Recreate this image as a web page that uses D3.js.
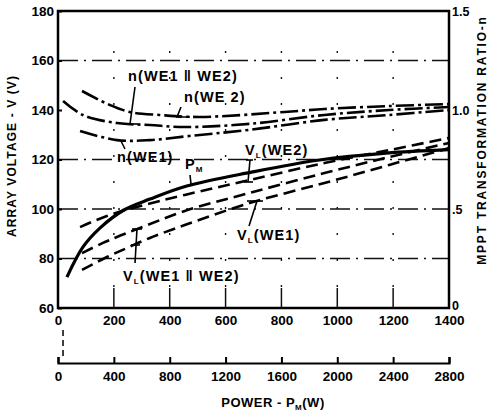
<!DOCTYPE html>
<html><head><meta charset="utf-8">
<script src="https://cdn.jsdelivr.net/npm/d3@7"></script>
<style>
body{margin:0;background:#fff;}
svg{display:block;font-family:"Liberation Sans",Arial,sans-serif;font-weight:bold;}
</style></head><body>
<svg id="chart" width="489" height="413"></svg>
<script>
// Axis ticks
const powerTicks = [0, 200, 400, 600, 800, 1000, 1200, 1400];
const powerTicks2 = [0, 400, 800, 1200, 1600, 2000, 2400, 2800];
const voltageTicks = [60, 80, 100, 120, 140, 160, 180];
const ratioTicks = [0, 0.5, 1.0, 1.5];
const ratioTickLabels = ["0", ".5", "1.0", "1.5"];
const gridVoltages = [160, 120, 100, 80];
const gridPowers = [200, 400, 600, 800, 1000, 1200];

// Maximum-power voltage P_M (left axis, V)
const pmPower   = [32, 89, 150, 236, 329, 461, 693, 936, 1175, 1400];
const pmVoltage = [72.5, 84.6, 92.3, 99.6, 104.0, 109.3, 114.9, 119.8, 122.6, 124];

// Load-line voltages V_L (left axis, V)
const vlWE2Power   = [79, 175, 282, 454, 686, 954, 1186, 1400];
const vlWE2Voltage = [92.7, 97.2, 100.8, 105.7, 111.7, 118.6, 123.8, 128.7];
const vlParPower   = [86, 161, 211, 293, 454, 686, 954, 1186, 1400];
const vlParVoltage = [82.2, 86.3, 88.7, 92.3, 99.2, 106.5, 114.5, 121, 126.7];
const vlWE1Power   = [86, 175, 246, 329, 454, 686, 954, 1186, 1400];
const vlWE1Voltage = [75.4, 80.6, 84.2, 88.3, 93.5, 102.4, 110.5, 117.8, 124.6];

// MPPT transformation ratio n (right axis)
const nWE2Power = [86, 186, 257, 364, 507, 811, 954, 1186, 1400];
const nWE2Ratio = [1.096, 1.025, 0.99, 0.975, 0.965, 0.99, 1.005, 1.02, 1.03];
const nParPower = [18, 89, 211, 329, 454, 686, 954, 1186, 1400];
const nParRatio = [1.045, 0.975, 0.934, 0.924, 0.914, 0.93, 0.975, 1.0, 1.015];
const nWE1Power = [79, 211, 329, 471, 686, 954, 1186, 1400];
const nWE1Ratio = [0.894, 0.848, 0.848, 0.869, 0.90, 0.95, 0.975, 1.0];

const svg = d3.select("#chart");
const plotLeft = 58, plotRight = 449, plotTop = 11, plotBottom = 308;

const x = d3.scaleLinear().domain([0, 1400]).range([plotLeft, plotRight]);
const x2 = d3.scaleLinear().domain([0, 2800]).range([plotLeft, plotRight]);
const yV = d3.scaleLinear().domain([60, 180]).range([plotBottom, plotTop]);
const yN = d3.scaleLinear().domain([0, 1.5]).range([plotBottom, plotTop]);

// Grid: dash-dot horizontals, sparse dotted verticals with short base ticks
svg.append("g").selectAll("line").data(gridVoltages).join("line")
  .attr("x1", plotLeft).attr("x2", plotRight)
  .attr("y1", d => yV(d)).attr("y2", d => yV(d))
  .attr("stroke", "#111").attr("stroke-width", 1.6)
  .attr("stroke-dasharray", "20,6,2,6");
svg.append("g").selectAll("line").data(gridPowers).join("line")
  .attr("x1", d => x(d)).attr("x2", d => x(d))
  .attr("y1", plotTop + 40).attr("y2", plotBottom)
  .attr("stroke", "#111").attr("stroke-width", 1.4)
  .attr("stroke-dasharray", "2,24");
svg.append("g").selectAll("line").data(gridPowers).join("line")
  .attr("x1", d => x(d)).attr("x2", d => x(d))
  .attr("y1", plotBottom - 20).attr("y2", plotBottom)
  .attr("stroke", "#111").attr("stroke-width", 1.5);

// Frame
svg.append("rect").attr("x", plotLeft).attr("y", plotTop)
  .attr("width", plotRight - plotLeft).attr("height", plotBottom - plotTop)
  .attr("fill", "none").attr("stroke", "#000").attr("stroke-width", 2.5);

// Axes
const fmt = d3.format("d");
const axisL = d3.axisLeft(yV).tickValues(voltageTicks).tickSize(-4).tickPadding(4).tickFormat(fmt);
const gL = svg.append("g").attr("transform", `translate(${plotLeft},0)`).call(axisL);
const axisR = d3.axisRight(yN).tickValues(ratioTicks).tickSize(0).tickPadding(3)
  .tickFormat((d, i) => ratioTickLabels[i]);
const gR = svg.append("g").attr("transform", `translate(${plotRight},0)`).call(axisR);
const axisB = d3.axisBottom(x).tickValues(powerTicks).tickSize(0).tickPadding(7).tickFormat(fmt);
const gB = svg.append("g").attr("transform", `translate(0,${plotBottom})`).call(axisB);
const axisB2 = d3.axisBottom(x2).tickValues(powerTicks2).tickSize(-6).tickPadding(8).tickFormat(fmt);
const gB2 = svg.append("g").attr("transform", `translate(0,363)`).call(axisB2);

[gL, gR, gB, gB2].forEach(g => {
  g.selectAll("text").attr("font-family", "Liberation Sans, Arial, sans-serif")
    .attr("font-weight", "bold").attr("font-size", 13.5).attr("fill", "#000");
  g.selectAll("line").attr("stroke", "#000").attr("stroke-width", 2);
});
gL.select(".domain").remove();
gR.select(".domain").remove();
gB.select(".domain").remove();
gB2.select(".domain").attr("stroke", "#000").attr("stroke-width", 2.2);
gR.selectAll("text").attr("font-size", 12.5);
gR.selectAll(".tick").filter(d => d === 0).select("text").attr("dy", "0.1em");

// short link between the two power scales at zero
svg.append("line").attr("x1", x(18)).attr("x2", x(18))
  .attr("y1", 330).attr("y2", 360)
  .attr("stroke", "#000").attr("stroke-width", 1.5).attr("stroke-dasharray", "6,4");

// Curves
const lineV = (ps, vs) => d3.line().x(d => x(d[0])).y(d => yV(d[1])).curve(d3.curveCatmullRom)(d3.zip(ps, vs));
const lineN = (ps, ns) => d3.line().x(d => x(d[0])).y(d => yN(d[1])).curve(d3.curveCatmullRom)(d3.zip(ps, ns));

const curves = svg.append("g").attr("fill", "none").attr("stroke", "#000");
curves.append("path").attr("d", lineV(pmPower, pmVoltage)).attr("stroke-width", 3.2);
[[vlWE2Power, vlWE2Voltage], [vlParPower, vlParVoltage], [vlWE1Power, vlWE1Voltage]].forEach(([p, v]) => {
  curves.append("path").attr("d", lineV(p, v)).attr("stroke-width", 2.6)
    .attr("stroke-dasharray", "12,6");
});
[[nWE2Power, nWE2Ratio], [nParPower, nParRatio], [nWE1Power, nWE1Ratio]].forEach(([p, n]) => {
  curves.append("path").attr("d", lineN(p, n)).attr("stroke-width", 2.6)
    .attr("stroke-dasharray", "18,4,3,4");
});

// Curve labels with leader lines
const ann = svg.append("g").attr("font-size", 14.5).attr("fill", "#000");
function label(tx, ty, main, sub, rest) {
  const t = ann.append("text").attr("x", tx).attr("y", ty).attr("letter-spacing", 1.1);
  t.append("tspan").text(main);
  if (sub) {
    t.append("tspan").attr("font-size", 8).attr("dy", 3).text(sub);
    if (rest) t.append("tspan").attr("dy", -3).text(rest);
  }
}
function leader(pts) {
  ann.append("path").attr("d", d3.line()(pts)).attr("fill", "none")
    .attr("stroke", "#000").attr("stroke-width", 1.6);
}
label(128, 81, "n(WE1 \u2016 WE2)");
leader([[135, 87], [130, 124]]); leader([[124, 124], [138, 124]]);
label(184, 102, "n(WE 2)");
leader([[181, 107], [177, 117], [190, 117]]);
label(117, 162, "n(WE1)");
leader([[121, 141], [125, 149]]);
label(185, 169, "P", "M");
leader([[190, 175], [191, 184], [198, 184]]);
label(245, 155, "V", "L", "(WE2)");
leader([[246, 160], [253, 160]]); leader([[250, 160], [248, 182]]); leader([[244, 182], [253, 182]]);
label(237, 240, "V", "L", "(WE1)");
leader([[247, 201], [263, 201]]); leader([[257, 201], [249, 226]]);
label(123, 281, "V", "L", "(WE1 \u2016 WE2)");
leader([[132, 229], [142, 229]]); leader([[137, 229], [135, 263]]); leader([[131, 245], [140, 245]]);

// Axis titles
svg.append("text").attr("transform", "translate(16,156) rotate(-90)")
  .attr("text-anchor", "middle").attr("font-size", 12).attr("letter-spacing", 1.1)
  .text("ARRAY  VOLTAGE - V (V)");
svg.append("text").attr("transform", "translate(486,140) rotate(-90)")
  .attr("text-anchor", "middle").attr("font-size", 12).attr("letter-spacing", 1.8)
  .text("MPPT  TRANSFORMATION  RATIO-n");
const title = svg.append("text").attr("x", 273).attr("y", 407)
  .attr("text-anchor", "middle").attr("font-size", 13).attr("letter-spacing", 0.5);
title.append("tspan").text("POWER - P");
title.append("tspan").attr("font-size", 8).attr("dy", 3).text("M");
title.append("tspan").attr("dy", -3).text("(W)");
</script>
</body></html>
